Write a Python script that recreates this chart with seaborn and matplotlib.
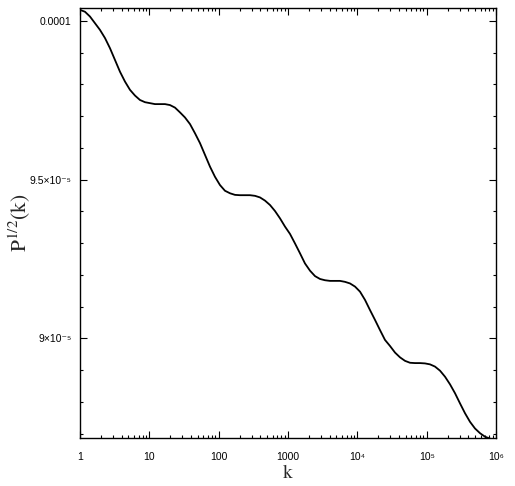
import matplotlib
matplotlib.use("Agg")
import matplotlib.pyplot as plt
import numpy as np
import pandas as pd
import seaborn as sns
from matplotlib.ticker import LogLocator, MultipleLocator, NullFormatter

# values: log10(k) and P^1/2(k) in units of 1e-5
log_k = [0.000, 0.072, 0.144, 0.216, 0.288, 0.361, 0.433, 0.505, 0.577, 0.649,
         0.721, 0.793, 0.865, 0.938, 1.010, 1.082, 1.154, 1.226, 1.298, 1.370,
         1.442, 1.514, 1.587, 1.659, 1.731, 1.803, 1.875, 1.947, 2.019, 2.091,
         2.164, 2.236, 2.308, 2.380, 2.452, 2.524, 2.596, 2.668, 2.741, 2.813,
         2.885, 2.957, 3.029, 3.101, 3.173, 3.245, 3.318, 3.390, 3.462, 3.534,
         3.606, 3.678, 3.750, 3.822, 3.894, 3.967, 4.039, 4.111, 4.183, 4.255,
         4.327, 4.399, 4.471, 4.544, 4.616, 4.688, 4.760, 4.832, 4.904, 4.976,
         5.048, 5.120, 5.193, 5.265, 5.337, 5.409, 5.481, 5.553, 5.625, 5.697,
         5.770, 5.842, 5.914]
p_half = [10.035, 10.029, 10.014, 9.993, 9.972, 9.946, 9.914, 9.877, 9.840, 9.809,
          9.783, 9.765, 9.751, 9.744, 9.741, 9.738, 9.738, 9.738, 9.735, 9.727,
          9.712, 9.696, 9.675, 9.646, 9.615, 9.578, 9.541, 9.509, 9.483, 9.465,
          9.457, 9.452, 9.451, 9.451, 9.451, 9.449, 9.444, 9.434, 9.420, 9.401,
          9.378, 9.352, 9.329, 9.299, 9.268, 9.236, 9.213, 9.196, 9.187, 9.183,
          9.181, 9.181, 9.181, 9.178, 9.173, 9.163, 9.147, 9.121, 9.089, 9.058,
          9.026, 8.995, 8.976, 8.955, 8.940, 8.929, 8.923, 8.922, 8.922, 8.921,
          8.918, 8.911, 8.898, 8.879, 8.855, 8.827, 8.795, 8.764, 8.737, 8.716,
          8.701, 8.690, 8.684]

x_ticks = [1, 10, 100, 1000, 1e4, 1e5, 1e6]
x_labels = ["1", "10", "100", "1000", "10⁴", "10⁵", "10⁶"]
y_ticks = [9e-5, 9.5e-5, 1e-4]
y_labels = ["9×10⁻⁵", "9.5×10⁻⁵", "0.0001"]

df = pd.DataFrame({"k": np.power(10.0, log_k), "p": np.array(p_half) * 1e-5})

sns.set_style("ticks")
plt.rcParams["font.family"] = ["Liberation Sans", "DejaVu Sans"]
plt.rcParams["mathtext.fontset"] = "stix"

fig = plt.figure(figsize=(5.15, 4.86), dpi=100)
ax = fig.add_axes([0.1553, 0.0988, 0.8078, 0.8842])
sns.lineplot(data=df, x="k", y="p", color="black", linewidth=1.3,
             estimator=None, sort=False, ax=ax)

ax.set_xscale("log")
ax.set_xlim(1, 1e6)
ax.set_ylim(8.686e-5, 10.040e-5)

ax.set_xticks(x_ticks)
ax.set_xticklabels(x_labels)
ax.xaxis.set_minor_locator(LogLocator(base=10, subs=np.arange(2, 10), numticks=20))
ax.xaxis.set_minor_formatter(NullFormatter())
ax.set_yticks(y_ticks)
ax.set_yticklabels(y_labels)
ax.yaxis.set_minor_locator(MultipleLocator(1e-6))

ax.tick_params(which="both", direction="in", top=True, right=True,
               colors="black", labelsize=7.5, width=0.8)
ax.tick_params(which="major", length=5)
ax.tick_params(which="minor", length=2.5)
ax.tick_params(axis="x", pad=10)
ax.tick_params(axis="y", pad=6)

for s in ax.spines.values():
    s.set_color("black")
    s.set_linewidth(1.0)

ax.set_xlabel(r"$\mathrm{k}$", fontsize=14)
ax.set_ylabel(r"$\mathrm{P}^{1/2}(\mathrm{k})$", fontsize=15.5)
ax.xaxis.set_label_coords(0.5, -0.06)
ax.yaxis.set_label_coords(-0.113, 0.5)

fig.savefig("out.png", dpi=100)
